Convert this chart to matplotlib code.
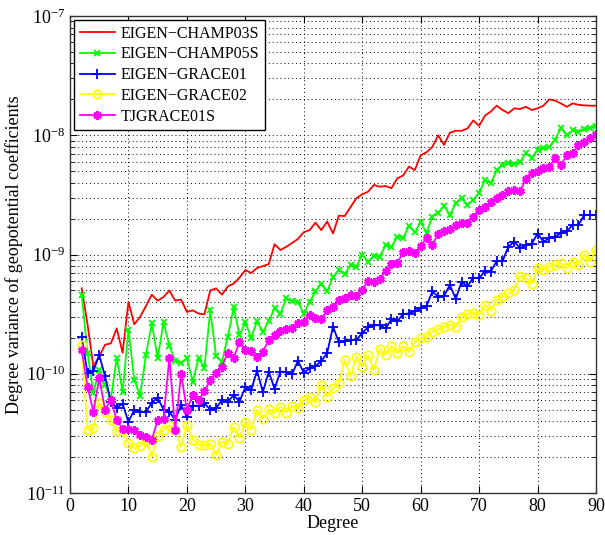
import matplotlib
matplotlib.use("Agg")
import matplotlib.pyplot as plt
import numpy as np
from matplotlib.ticker import LogLocator, NullFormatter, LogFormatterMathtext, MultipleLocator

plt.rcParams['font.family'] = ['Liberation Serif', 'DejaVu Serif']
plt.rcParams['mathtext.fontset'] = 'stix'

degrees = list(range(2, 91))

champ03s = [5.2, 2.6, 1.15, 1.4, 1.75, 1.8, 2.4, 1.5, 4.0,
            2.6, 3.0, 3.7, 4.6, 4.1, 4.4, 5.0, 4.1, 4.2, 3.3,
            3.4, 3.2, 3.15, 5.0, 5.2, 4.6, 5.4, 5.7, 6.4, 7.4,
            7.0, 7.7, 8.0, 8.3, 12.2, 10.9, 11.6, 12.5, 13.5, 15.4,
            16.0, 18.5, 16.0, 18.9, 15.0, 21.2, 21.0, 25, 29.6, 32,
            33.6, 38.3, 37, 37.5, 36, 43.5, 46, 54.6, 51, 68,
            72, 80, 100, 83, 105, 109, 109, 114, 133, 120,
            146, 158, 177, 163, 153, 168, 166, 173, 163, 168,
            177, 200, 195, 185, 173, 185, 180, 178, 177, 177]  # x1e-10

champ05s = [4.6, 1.5, 0.69, 1.08, 0.8, 0.62, 1.36, 0.70, 2.35,
             0.89, 0.65, 1.45, 2.65, 1.35, 2.7, 1.72, 1.28, 1.23, 1.35,
             0.86, 1.35, 1.12, 3.4, 1.4, 1.26, 2.05, 3.6, 2.1, 2.7,
             2.0, 2.75, 2.25, 2.75, 3.55, 3.2, 4.3, 4.1, 4.0, 3.2,
             4.0, 4.9, 5.7, 4.9, 6.5, 7.4, 6.8, 8.2, 7.9, 10.0,
             8.7, 9.8, 9.6, 12.0, 11.6, 14.1, 13.7, 17.4, 15.3, 18.8,
             15.2, 20.8, 22.5, 25.5, 21.5, 26.9, 29.6, 26, 28.7, 33,
             42, 39.5, 51, 56, 58, 57, 59.5, 71, 65, 75,
             78, 80, 92, 115, 100, 110, 107, 112, 115, 120]  # x1e-10

grace01 = [20.5, 10.1, 10.5, 14.4, 9.5, 5.8, 5.2, 5.6, 3.95,
           5.0, 4.8, 4.8, 5.7, 6.3, 5.0, 4.8, 4.1, 5.5, 4.35,
           5.4, 5.4, 5.65, 5.0, 5.15, 6.0, 5.85, 6.6, 5.85, 7.7,
           7.3, 10.6, 7.0, 10.4, 7.5, 10.4, 10.4, 9.9, 12.8, 10.2,
           11.1, 11.6, 12.8, 14.9, 24.9, 18.3, 18.7, 19.1, 19.2, 22,
           24.5, 25.5, 25.5, 24.0, 28.7, 27.5, 31.7, 32, 33.5, 35.5,
           37, 49, 44.2, 45, 55.5, 42.5, 59, 54, 64, 63,
           73, 72, 88, 88, 116, 128, 113, 120, 123, 150,
           128, 137, 141, 151, 156, 177, 177, 215, 215, 213]  # x1e-11

grace02 = [17.5, 3.4, 3.5, 5.7, 4.8, 4.1, 3.3, 3.3, 2.63,
           2.38, 2.5, 2.75, 2.02, 2.98, 3.39, 3.7, 3.39, 2.45, 3.73,
           2.79, 2.54, 2.54, 2.6, 2.08, 2.7, 2.6, 3.6, 2.9, 3.95,
           3.39, 4.98, 4.2, 5.05, 4.67, 5.3, 4.73, 5.36, 5.13, 6.04,
           6.44, 5.74, 8.07, 6.44, 7.57, 8.34, 13.1, 9.5, 13.9, 11.5,
           14.4, 10.8, 16.1, 14.4, 17.1, 14.9, 17.1, 15.3, 18.6, 19.9,
           20.2, 22.6, 23.6, 24.9, 25.7, 24.9, 29.8, 31.8, 32.6, 31.2,
           37.8, 33.9, 41.6, 44.4, 47.3, 50.5, 66, 63, 56.7, 77,
           74, 79, 81.8, 85, 76.7, 87.3, 81.8, 99.3, 87.3, 109]  # x1e-11

tjgrace01s = [15.8, 7.8, 4.8, 9.2, 5.0, 6.0, 4.1, 3.43, 3.43,
              3.4, 3.05, 2.94, 2.8, 4.1, 4.2, 13.6, 3.39, 10.0, 4.98,
              6.65, 6.04, 7.1, 8.9, 10.1, 11.5, 15.0, 13.5, 18.6, 15.8,
              15.5, 13.9, 15.3, 19.2, 21.2, 23.0, 23.7, 24.2, 26.9, 27.4,
              31.2, 29.4, 28.6, 34.3, 36.6, 41.7, 43, 46, 44.5, 50.5,
              60, 59, 62, 73, 83, 85, 104, 106, 103, 118,
              137, 120, 150, 156, 163, 177, 183, 185, 205, 236,
              250, 278, 300, 316, 344, 350, 340, 430, 480, 505,
              530, 546, 640, 560, 684, 710, 830, 880, 940, 1020]  # x1e-11

labels = ["EIGEN\u2212CHAMP03S", "EIGEN\u2212CHAMP05S", "EIGEN\u2212GRACE01",
          "EIGEN\u2212GRACE02", "TJGRACE01S"]

fig = plt.figure(figsize=(6.05, 5.35), dpi=100)
ax = fig.add_axes([70/605, 42/535, 526/605, 477/535])

ax.plot(degrees, np.array(champ03s) * 1e-10, color='#ff0000', lw=1.3, label=labels[0])
ax.plot(degrees, np.array(champ05s) * 1e-10, color='#00ff00', lw=1.3, marker='x',
        ms=5, mew=1.3, label=labels[1])
ax.plot(degrees, np.array(grace01) * 1e-11, color='#0000ff', lw=1.3, marker='+',
        ms=7, mew=1.3, label=labels[2])
ax.plot(degrees, np.array(grace02) * 1e-11, color='#ffff00', lw=1.3, marker='o',
        ms=6, mew=1.3, mfc='none', label=labels[3])
ax.plot(degrees, np.array(tjgrace01s) * 1e-11, color='#ff00ff', lw=1.3, marker=(6, 2, 0),
        ms=6, mew=2.0, label=labels[4])

ax.set_yscale('log')
ax.set_xlim(0, 90)
ax.set_ylim(1e-11, 1e-7)
ax.xaxis.set_major_locator(MultipleLocator(10))
ax.yaxis.set_major_locator(LogLocator(base=10, numticks=10))
ax.yaxis.set_minor_locator(LogLocator(base=10, subs=np.arange(2, 10), numticks=20))
ax.yaxis.set_minor_formatter(NullFormatter())
ax.yaxis.set_major_formatter(LogFormatterMathtext())

ax.grid(True, which='major', axis='both', color='black', linestyle=(0, (1, 3)), linewidth=0.7)
ax.grid(True, which='minor', axis='y', color='black', linestyle=(0, (1, 3)), linewidth=0.7)

ax.tick_params(which='both', direction='in', top=True, right=True, labelsize=13)
ax.tick_params(which='major', length=5)
ax.tick_params(which='minor', length=3)
for s in ax.spines.values():
    s.set_linewidth(1.0)
    s.set_color('#333333')

ax.set_xlabel('Degree', fontsize=13, labelpad=0)
ax.set_ylabel('Degree variance of geopotential coefficients', fontsize=13, labelpad=2)

leg = ax.legend(loc='upper left', fontsize=11.5, frameon=True, fancybox=False,
                edgecolor='black', framealpha=1, borderpad=0.35, labelspacing=0.3,
                handlelength=2.2, handletextpad=0.35, borderaxespad=0.25)
leg.get_frame().set_linewidth(1.0)

fig.savefig('out.png', dpi=100)
